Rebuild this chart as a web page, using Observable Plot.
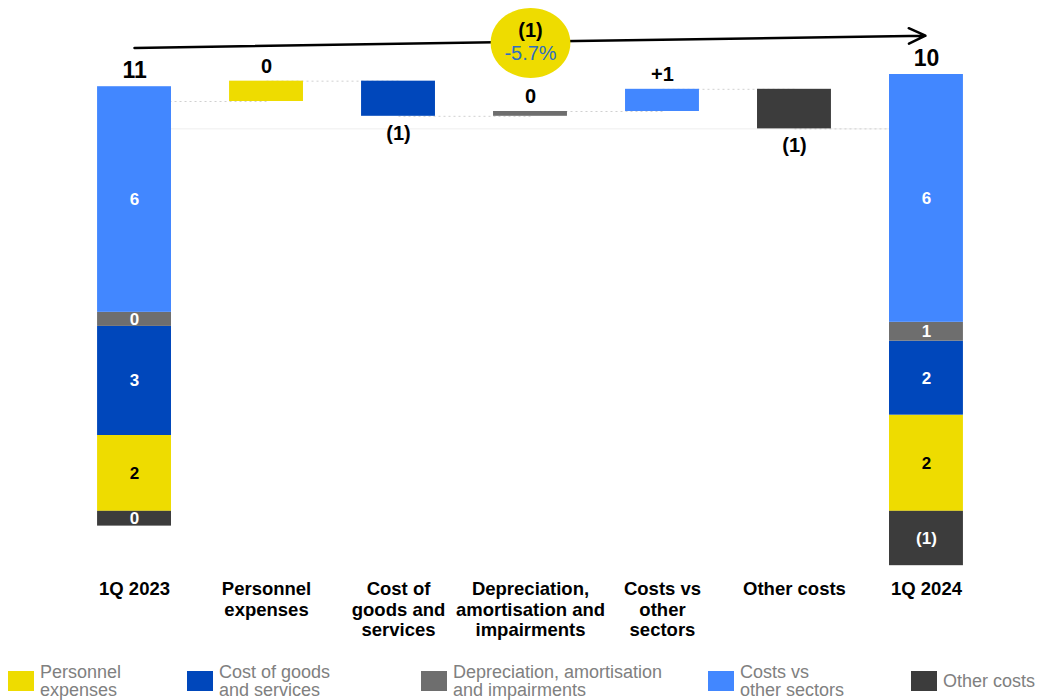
<!DOCTYPE html>
<html><head><meta charset="utf-8">
<script src="https://cdn.jsdelivr.net/npm/d3@7"></script>
<script src="https://cdn.jsdelivr.net/npm/@observablehq/plot@0.6"></script>
<style>
body{margin:0;background:#fff;font-family:"Liberation Sans",Arial,sans-serif;}
#wrap{position:relative;width:1041px;height:700px;overflow:hidden;background:#fff;}
.legend{position:absolute;top:662px;left:0;width:1041px;height:38px;}
.item{position:absolute;display:flex;align-items:center;height:38px;top:0;}
.sw{width:26px;height:20px;flex:none;margin-right:6px;}
.lab{font-size:18px;line-height:18px;color:#808080;white-space:pre;}
</style></head><body>
<div id="wrap"><div id="chart"></div><div class="legend" id="legend"></div></div>
<script>
// ---- data ----
const categories = ["1Q 2023", "Personnel expenses", "Cost of goods and services",
  "Depreciation, amortisation and impairments", "Costs vs other sectors", "Other costs", "1Q 2024"];
const tickLabels = ["1Q 2023", "Personnel\nexpenses", "Cost of\ngoods and\nservices",
  "Depreciation,\namortisation and\nimpairments", "Costs vs\nother\nsectors", "Other costs", "1Q 2024"];
const components = ["Personnel expenses", "Cost of goods and services",
  "Depreciation, amortisation and impairments", "Costs vs other sectors", "Other costs"];
const legendLabels = ["Personnel\nexpenses", "Cost of goods\nand services",
  "Depreciation, amortisation\nand impairments", "Costs vs\nother sectors", "Other costs"];
const componentColors = ["#EEDC00", "#0047BB", "#6E6E6E", "#4287FF", "#3C3C3C"];
const labelColors = ["black", "white", "white", "white", "white"];
const values2023 = [2.05, 2.95, 0.38, 6.10, -0.40];
const labels2023 = ["2", "3", "0", "6", "0"];
const values2024 = [2.60, 2.00, 0.51, 6.70, -1.47];
const labels2024 = ["2", "2", "1", "6", "(1)"];
const deltaLabels = ["0", "(1)", "0", "+1", "(1)"];
const totalLabels = ["11", "10"];
const changeAbsLabel = "(1)";
const changePctLabel = "-5.7%";

// ---- derived tables ----
function stackRows(period, values, labels) {
  let pos = 0, neg = 0;
  return values.map((v, i) => {
    let y1, y2;
    if (v >= 0) { y1 = pos; y2 = pos + v; pos = y2; } else { y1 = neg; y2 = neg + v; neg = y2; }
    return {x: period, y1, y2, mid: (y1 + y2) / 2, label: labels[i], color: componentColors[i], tcolor: labelColors[i]};
  });
}
const stacks = [...stackRows(categories[0], values2023, labels2023), ...stackRows(categories[6], values2024, labels2024)];
const net2023 = d3.sum(values2023), net2024 = d3.sum(values2024);
const top2023 = d3.sum(values2023.filter(v => v > 0));
const top2024 = d3.sum(values2024.filter(v => v > 0));
const totals = [{x: categories[0], y: top2023, label: totalLabels[0]}, {x: categories[6], y: top2024, label: totalLabels[1]}];

let level = net2023;
const deltas = components.map((c, i) => {
  const d = values2024[i] - values2023[i];
  const r = {x: categories[i + 1], y1: level, y2: level + d, d, label: deltaLabels[i], color: componentColors[i]};
  level += d;
  return r;
});
const connectors = [{x1: categories[0], x2: categories[1], y: net2023},
  ...deltas.map((r, i) => ({x1: categories[i + 1], x2: categories[i + 2], y: r.y2}))];

const lift = 1.05;
const arrowRow = {x1: categories[0], y1: top2023 + lift, x2: categories[6], y2: top2024 + lift};
const badge = {x: categories[3], y: (arrowRow.y1 + arrowRow.y2) / 2 - 0.03};

// custom ellipse symbol for the badge
const ellipseSymbol = {
  draw(ctx, size) {
    const r = Math.sqrt(size / Math.PI), rx = r * 1.14, ry = r, k = 0.5523;
    ctx.moveTo(rx, 0);
    ctx.bezierCurveTo(rx, k * ry, k * rx, ry, 0, ry);
    ctx.bezierCurveTo(-k * rx, ry, -rx, k * ry, -rx, 0);
    ctx.bezierCurveTo(-rx, -k * ry, -k * rx, -ry, 0, -ry);
    ctx.bezierCurveTo(k * rx, -ry, rx, -k * ry, rx, 0);
    ctx.closePath();
  }
};

const tickMap = new Map(categories.map((c, i) => [c, tickLabels[i]]));
const font = "'Liberation Sans', Arial, sans-serif";

const chart = Plot.plot({
  width: 1041,
  height: 660,
  marginTop: 11.5,
  marginBottom: 90,
  marginLeft: 39,
  marginRight: 20,
  style: {fontFamily: font, fontSize: "16px", color: "black", background: "white"},
  x: {domain: categories, padding: 0.44, round: false, axis: null},
  y: {domain: [-1.6, 13.5], axis: null},
  marks: [
    Plot.link([{x1: categories[0], x2: categories[6], y: net2024}], {x1: "x1", x2: "x2", y1: "y", y2: "y", stroke: "#eeeeee", strokeWidth: 1}),
    Plot.link(connectors, {x1: "x1", x2: "x2", y1: "y", y2: "y", stroke: "#d0d0d0", strokeWidth: 1, strokeDasharray: "2,3"}),
    Plot.barY(stacks, {x: "x", y1: "y1", y2: "y2", fill: "color"}),
    Plot.text(stacks, {x: "x", y: "mid", text: "label", fill: "tcolor", fontSize: 17, fontWeight: "bold"}),
    Plot.barY(deltas, {x: "x", y1: "y1", y2: "y2", fill: "color"}),
    Plot.text(deltas.filter(d => d.d >= 0), {x: "x", y: "y2", text: "label", dy: -15, fontSize: 20, fontWeight: "bold", fill: "black"}),
    Plot.text(deltas.filter(d => d.d < 0), {x: "x", y: "y2", text: "label", dy: 17, fontSize: 20, fontWeight: "bold", fill: "black"}),
    Plot.text(totals, {x: "x", y: "y", text: "label", dy: -16, fontSize: 23, fontWeight: "bold", fill: "black"}),
    Plot.arrow([arrowRow], {x1: "x1", y1: "y1", x2: "x2", y2: "y2", stroke: "black", strokeWidth: 2.5, headLength: 11, headAngle: 50, insetEnd: 1}),
    Plot.dot([badge], {x: "x", y: "y", r: 35, symbol: ellipseSymbol, fill: "#EEDC00", stroke: "none"}),
    Plot.text([badge], {x: "x", y: "y", text: () => changeAbsLabel, dy: -12, fontSize: 20, fontWeight: "bold", fill: "black"}),
    Plot.text([badge], {x: "x", y: "y", text: () => changePctLabel, dy: 11, fontSize: 20, fill: "#2F6EC0"}),
    Plot.axisX({tickSize: 0, tickPadding: 10, fontSize: 18.5, fontWeight: "bold", lineHeight: 1.11, fill: "black",
      tickFormat: d => tickMap.get(d)})
  ]
});
document.getElementById("chart").appendChild(chart);

// legend
const lefts = [8, 187, 421, 708, 911];
const legend = document.getElementById("legend");
components.forEach((c, i) => {
  const item = document.createElement("div");
  item.className = "item";
  item.style.left = lefts[i] + "px";
  const sw = document.createElement("div");
  sw.className = "sw";
  sw.style.background = componentColors[i];
  const lab = document.createElement("div");
  lab.className = "lab";
  lab.textContent = legendLabels[i];
  item.appendChild(sw); item.appendChild(lab);
  legend.appendChild(item);
});
</script>
</body></html>
